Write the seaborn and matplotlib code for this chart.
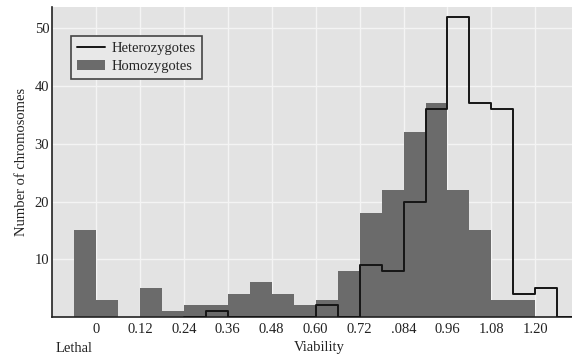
import numpy as np
import pandas as pd
import matplotlib
matplotlib.use("Agg")
import matplotlib.pyplot as plt
import seaborn as sns
from matplotlib.lines import Line2D
from matplotlib.patches import Patch

# ---- data ----
bin_width = 0.06
homo_start = -0.06
homo_counts = [15, 3, 0, 5, 1, 2, 2, 4, 6, 4, 2, 3, 8, 18, 22, 32, 37, 22, 15, 3, 3]
hetero_start = 0.24
hetero_counts = [0, 1, 0, 0, 0, 0, 2, 0, 9, 8, 20, 36, 52, 37, 36, 4, 5, 0]
tick_values = [0, 0.12, 0.24, 0.36, 0.48, 0.60, 0.72, 0.84, 0.96, 1.08, 1.20]
tick_labels = ["0", "0.12", "0.24", "0.36", "0.48", "0.60", "0.72", ".084", "0.96", "1.08", "1.20"]
y_ticks = [10, 20, 30, 40, 50]

homo_centers = homo_start + bin_width * (np.arange(len(homo_counts)) + 0.5)
hetero_centers = hetero_start + bin_width * (np.arange(len(hetero_counts)) + 0.5)
homo_range = (homo_start, homo_start + bin_width * len(homo_counts))
hetero_range = (hetero_start, hetero_start + bin_width * len(hetero_counts))

homo_df = pd.DataFrame({"viability": homo_centers, "count": homo_counts})
hetero_df = pd.DataFrame({"viability": hetero_centers, "count": hetero_counts})

sns.set_theme(style="darkgrid")
plt.rcParams["font.family"] = ["Liberation Serif", "DejaVu Serif"]

fig = plt.figure(figsize=(5.72, 3.56), dpi=100)
ax = fig.add_axes([52 / 572, 1 - 317 / 356, 1 - 52 / 572, (317 - 7) / 356])
ax.set_facecolor("#e3e3e3")

sns.histplot(data=homo_df, x="viability", weights="count", binwidth=bin_width,
             binrange=homo_range, element="bars", color="#6b6b6b", alpha=1,
             linewidth=0, ax=ax, zorder=2)
sns.histplot(data=hetero_df, x="viability", weights="count", binwidth=bin_width,
             binrange=hetero_range, element="step", fill=False, color="#151515",
             linewidth=1.4, ax=ax, zorder=3)

ax.set_xlim(-0.12, 1.30)
ax.set_ylim(0, 53.7)
ax.set_xticks(tick_values)
ax.set_xticklabels(tick_labels)
ax.set_yticks(y_ticks)
ax.grid(True, color="#f4f4f4", linewidth=1.0, zorder=0)
ax.set_axisbelow(True)

ax.tick_params(axis="both", direction="in", length=4, width=1, color="#333333",
               labelsize=10.5, labelcolor="#222222")
ax.tick_params(axis="x", pad=4)
ax.tick_params(axis="y", pad=2)

for side in ["top", "right"]:
    ax.spines[side].set_visible(False)
for side in ["left", "bottom"]:
    ax.spines[side].set_visible(True)
    ax.spines[side].set_color("#222222")
    ax.spines[side].set_linewidth(1.2)

ax.set_xlabel("")
ax.set_ylabel("Number of chromosomes", fontsize=10.5, color="#222222", labelpad=5)
fig.text(74 / 572, 1 - 348 / 356, "Lethal", ha="center", va="center", fontsize=10.5, color="#222222")
fig.text(319.5 / 572, 1 - 347 / 356, "Viability", ha="center", va="center", fontsize=10.5, color="#222222")

handles = [Line2D([0], [0], color="#151515", linewidth=1.4),
           Patch(facecolor="#6b6b6b", edgecolor="none")]
leg = ax.legend(handles, ["Heterozygotes", "Homozygotes"], loc="upper left",
                bbox_to_anchor=(0.0365, 0.906), borderaxespad=0, fontsize=10.5,
                frameon=True, fancybox=False, handlelength=1.9, handletextpad=0.5,
                borderpad=0.4, labelspacing=0.3)
leg.get_frame().set_facecolor("#e8e8e8")
leg.get_frame().set_edgecolor("#444444")
leg.get_frame().set_linewidth(1.2)
leg.get_frame().set_alpha(1)

fig.savefig("out.png", dpi=100)
